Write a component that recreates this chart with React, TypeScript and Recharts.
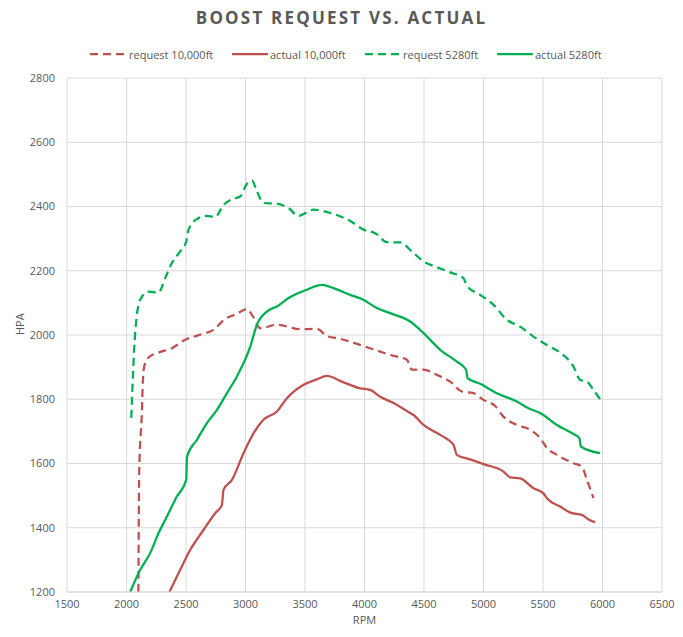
import { LineChart, Line, XAxis, YAxis, CartesianGrid } from 'recharts'

// values (RPM vs HPA)
const request10kRpm = [2100, 2107, 2129, 2138, 2149, 2185, 2269, 2381, 2493, 2619, 2731, 2829, 2928, 3012, 3062, 3124, 3264, 3460, 3600, 3684, 3796, 4006, 4216, 4356, 4398, 4496, 4608, 4720, 4818, 4916, 5000, 5098, 5168, 5280, 5392, 5476, 5533, 5617, 5756, 5827, 5869, 5924]
const request10kHpa = [1200, 1580, 1757, 1860, 1902, 1930, 1945, 1959, 1985, 2001, 2016, 2050, 2066, 2081, 2058, 2021, 2032, 2018, 2019, 1997, 1988, 1964, 1938, 1923, 1892, 1892, 1876, 1855, 1824, 1819, 1798, 1779, 1746, 1720, 1705, 1679, 1648, 1627, 1601, 1590, 1549, 1492]

const actual10kRpm = [2361, 2451, 2535, 2647, 2745, 2802, 2815, 2886, 2983, 3067, 3151, 3264, 3348, 3488, 3600, 3684, 3810, 3964, 4048, 4132, 4244, 4384, 4412, 4496, 4636, 4748, 4776, 4888, 5000, 5168, 5224, 5308, 5420, 5504, 5533, 5644, 5729, 5827, 5883, 5939]
const actual10kHpa = [1200, 1269, 1331, 1393, 1445, 1471, 1518, 1549, 1632, 1694, 1736, 1762, 1803, 1845, 1862, 1873, 1855, 1834, 1829, 1808, 1788, 1757, 1751, 1720, 1689, 1658, 1627, 1613, 1598, 1575, 1557, 1554, 1523, 1507, 1492, 1466, 1447, 1440, 1426, 1417]

const request5280Rpm = [2040, 2073, 2115, 2185, 2269, 2325, 2381, 2451, 2502, 2521, 2592, 2676, 2745, 2815, 2886, 2955, 3012, 3054, 3096, 3151, 3264, 3361, 3445, 3571, 3739, 3880, 3991, 4090, 4188, 4300, 4398, 4496, 4608, 4720, 4832, 4860, 4972, 5084, 5197, 5308, 5420, 5533, 5644, 5756, 5812, 5869, 5924, 5980]
const request5280Hpa = [1742, 2007, 2110, 2135, 2132, 2177, 2224, 2260, 2291, 2328, 2361, 2371, 2367, 2405, 2423, 2431, 2471, 2481, 2447, 2411, 2409, 2395, 2371, 2390, 2377, 2355, 2328, 2317, 2289, 2288, 2260, 2229, 2211, 2195, 2177, 2153, 2125, 2094, 2047, 2026, 1995, 1969, 1945, 1902, 1860, 1855, 1829, 1800]

const actual5280Rpm = [2031, 2115, 2199, 2269, 2325, 2423, 2502, 2508, 2592, 2676, 2760, 2844, 2928, 3040, 3096, 3180, 3264, 3376, 3516, 3642, 3739, 3880, 3978, 4104, 4216, 4384, 4496, 4636, 4776, 4854, 4866, 4972, 5112, 5280, 5378, 5476, 5617, 5756, 5806, 5818, 5980]
const actual5280Hpa = [1200, 1269, 1321, 1383, 1424, 1497, 1549, 1621, 1674, 1726, 1767, 1819, 1871, 1964, 2032, 2073, 2089, 2118, 2141, 2156, 2146, 2125, 2112, 2084, 2068, 2042, 2006, 1954, 1917, 1892, 1866, 1848, 1819, 1793, 1772, 1757, 1720, 1692, 1679, 1653, 1632]

const xTicks = [1500, 2000, 2500, 3000, 3500, 4000, 4500, 5000, 5500, 6000, 6500]
const yTicks = [1200, 1400, 1600, 1800, 2000, 2200, 2400, 2600, 2800]

const RED = '#C0504D'
const GREEN = '#00B050'
const TEXT = '#595959'
const FONT = '"Open Sans", sans-serif'
const DASH = '8 5'

const zip = (xs: number[], ys: number[]) => xs.map((rpm, i) => ({ rpm, hpa: ys[i] }))

const series = [
  { name: 'request 10,000ft', data: zip(request10kRpm, request10kHpa), color: RED, dashed: true, lx: 90, lw: 37 },
  { name: 'actual 10,000ft', data: zip(actual10kRpm, actual10kHpa), color: RED, dashed: false, lx: 232, lw: 36 },
  { name: 'request 5280ft', data: zip(request5280Rpm, request5280Hpa), color: GREEN, dashed: true, lx: 365, lw: 36 },
  { name: 'actual 5280ft', data: zip(actual5280Rpm, actual5280Hpa), color: GREEN, dashed: false, lx: 497, lw: 36 },
]

export default function App() {
  return (
    <div style={{ position: 'relative', width: 683, height: 637, margin: -8, background: '#fff', fontFamily: FONT }}>
      <div style={{ position: 'absolute', top: 6, left: 0, width: 683, textAlign: 'center', fontSize: 17, fontWeight: 700, letterSpacing: 2.2, color: TEXT }}>
        BOOST REQUEST VS. ACTUAL
      </div>
      {series.map(s => (
        <div key={s.name} style={{ position: 'absolute', top: 45, left: s.lx, height: 18, display: 'flex', alignItems: 'center', fontSize: 11, color: TEXT, whiteSpace: 'nowrap' }}>
          <svg width={s.lw} height={4} style={{ marginRight: 2 }}>
            <line x1={0} y1={2} x2={s.lw} y2={2} stroke={s.color} strokeWidth={2.25} strokeDasharray={s.dashed ? DASH : undefined} />
          </svg>
          {s.name}
        </div>
      ))}
      <div style={{ position: 'absolute', left: 0, top: 0 }}>
        <LineChart width={683} height={637} margin={{ top: 78, right: 21, left: 7, bottom: 15 }}>
          <CartesianGrid stroke="#D9D9D9" horizontal vertical />
          <XAxis
            dataKey="rpm"
            type="number"
            domain={[1500, 6500]}
            ticks={xTicks}
            allowDataOverflow
            height={30}
            tickLine={false}
            tickSize={0}
            tickMargin={8}
            axisLine={{ stroke: '#D9D9D9' }}
            tick={{ fill: TEXT, fontSize: 11, fontFamily: FONT }}
            label={{ value: 'RPM', position: 'insideBottom', offset: -2, fill: TEXT, fontSize: 11, fontFamily: FONT }}
          />
          <YAxis
            dataKey="hpa"
            type="number"
            domain={[1200, 2800]}
            ticks={yTicks}
            allowDataOverflow
            width={60}
            tickLine={false}
            tickSize={0}
            tickMargin={12}
            axisLine={false}
            tick={{ fill: TEXT, fontSize: 11, fontFamily: FONT }}
            label={{ value: 'HPA', angle: -90, position: 'insideLeft', offset: 13, fill: TEXT, fontSize: 11, fontFamily: FONT }}
          />
          {series.map(s => (
            <Line
              key={s.name}
              data={s.data}
              dataKey="hpa"
              name={s.name}
              type="monotone"
              stroke={s.color}
              strokeWidth={2.25}
              strokeDasharray={s.dashed ? DASH : undefined}
              dot={false}
              activeDot={false}
              isAnimationActive={false}
            />
          ))}
        </LineChart>
      </div>
    </div>
  )
}
